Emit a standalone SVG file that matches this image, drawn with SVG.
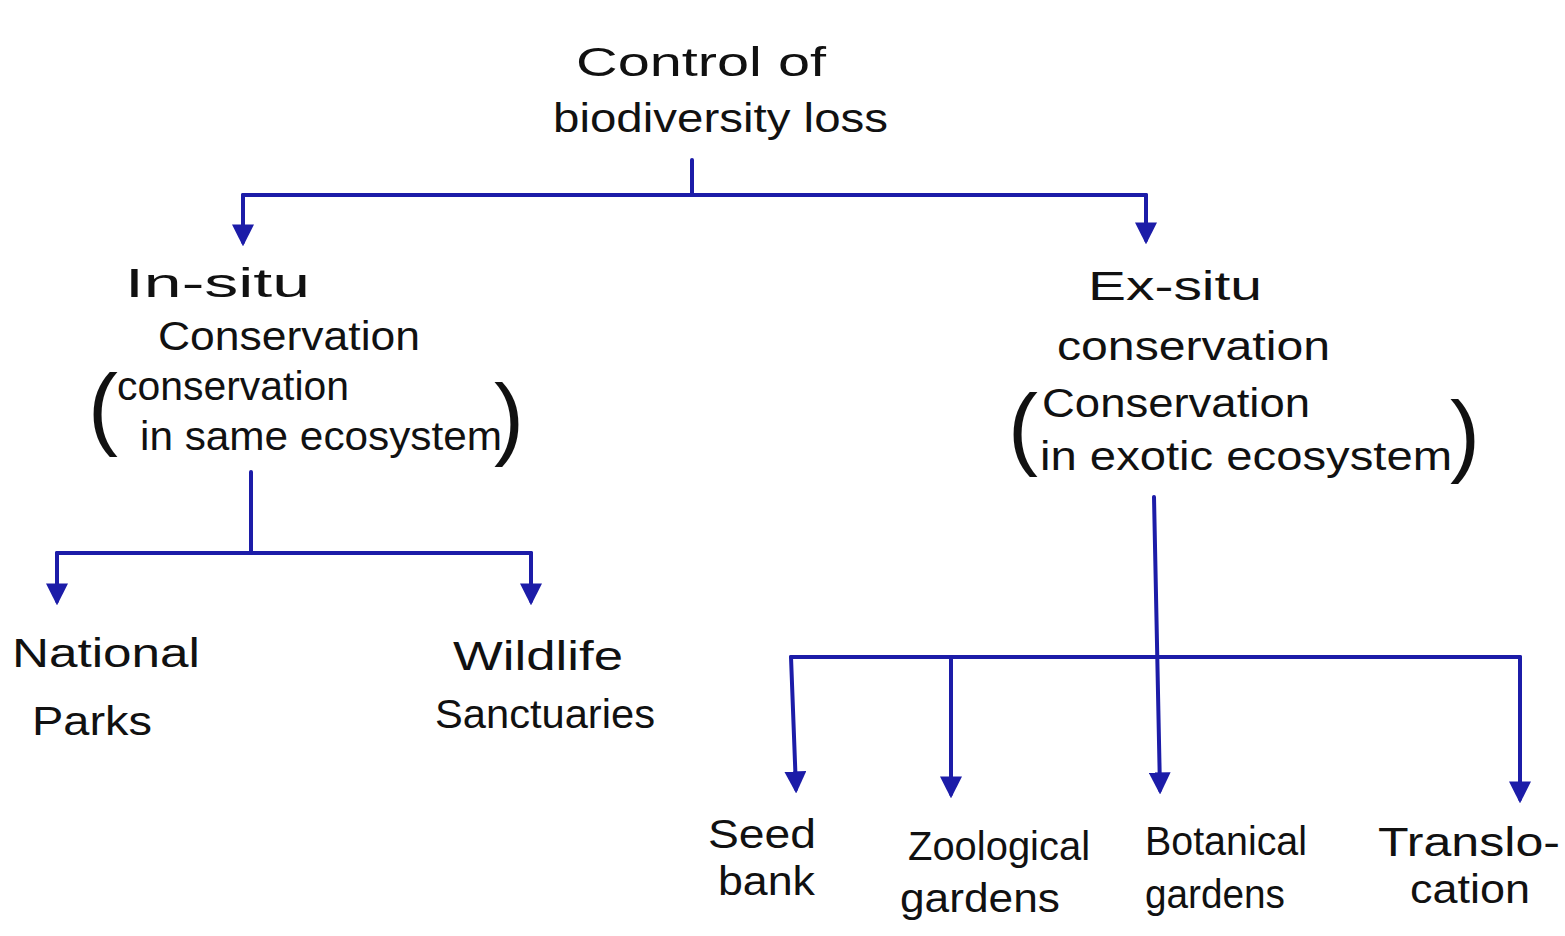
<svg xmlns="http://www.w3.org/2000/svg" width="1565" height="936" viewBox="0 0 1565 936">
<defs>
<style>
.t{font-family:"Liberation Sans","DejaVu Sans",sans-serif;font-size:40px;fill:#111;}
.p{font-family:"Liberation Sans","DejaVu Sans",sans-serif;font-size:90px;fill:#111;}
.c{stroke:#1c1ca8;stroke-width:4;fill:none;stroke-linecap:round;stroke-linejoin:round;}
</style>
<marker id="ah" viewBox="0 0 10 10" refX="8" refY="5" markerWidth="5.5" markerHeight="5.5" orient="auto" markerUnits="strokeWidth">
<path d="M0,0 L10,5 L0,10 Z" fill="#1c1ca8"/>
</marker>
</defs>
<rect width="1565" height="936" fill="#ffffff"/>
<g id="connectors">
<path class="c" d="M692,160 L692,195"/>
<path class="c" d="M243,195 L1146,195"/>
<path class="c" d="M243,195 L243,242" marker-end="url(#ah)"/>
<path class="c" d="M1146,195 L1146,240" marker-end="url(#ah)"/>
<path class="c" d="M251,472 L251,553"/>
<path class="c" d="M57,553 L531,553"/>
<path class="c" d="M57,553 L57,601" marker-end="url(#ah)"/>
<path class="c" d="M531,553 L531,601" marker-end="url(#ah)"/>
<path class="c" d="M1154,497 L1160,790" marker-end="url(#ah)"/>
<path class="c" d="M791,657 L1520,657"/>
<path class="c" d="M791,657 L796,789" marker-end="url(#ah)"/>
<path class="c" d="M951,657 L951,794" marker-end="url(#ah)"/>
<path class="c" d="M1520,657 L1520,799" marker-end="url(#ah)"/>
</g>
<g id="root">
<text class="t" x="576" y="76" textLength="250" lengthAdjust="spacingAndGlyphs">Control of</text>
<text class="t" x="553" y="132" textLength="335" lengthAdjust="spacingAndGlyphs">biodiversity loss</text>
</g>
<g id="insitu">
<text class="t" x="125" y="297" textLength="185" lengthAdjust="spacingAndGlyphs">In-situ</text>
<text class="t" x="158" y="350" textLength="262" lengthAdjust="spacingAndGlyphs">Conservation</text>
<text class="p" x="88" y="438">(</text>
<text class="t" x="117" y="400" textLength="232" lengthAdjust="spacingAndGlyphs">conservation</text>
<text class="t" x="140" y="450" textLength="362" lengthAdjust="spacingAndGlyphs">in same ecosystem</text>
<text class="p" x="494" y="448">)</text>
</g>
<g id="exsitu">
<text class="t" x="1088" y="300" textLength="174" lengthAdjust="spacingAndGlyphs">Ex-situ</text>
<text class="t" x="1057" y="360" textLength="273" lengthAdjust="spacingAndGlyphs">conservation</text>
<text class="p" x="1008" y="458">(</text>
<text class="t" x="1042" y="417" textLength="268" lengthAdjust="spacingAndGlyphs">Conservation</text>
<text class="t" x="1040" y="470" textLength="412" lengthAdjust="spacingAndGlyphs">in exotic ecosystem</text>
<text class="p" x="1450" y="465">)</text>
</g>
<g id="national-parks">
<text class="t" x="12" y="667" textLength="188" lengthAdjust="spacingAndGlyphs">National</text>
<text class="t" x="32" y="735" textLength="120" lengthAdjust="spacingAndGlyphs">Parks</text>
</g>
<g id="wildlife-sanctuaries">
<text class="t" x="453" y="670" textLength="170" lengthAdjust="spacingAndGlyphs">Wildlife</text>
<text class="t" x="435" y="728" textLength="220" lengthAdjust="spacingAndGlyphs">Sanctuaries</text>
</g>
<g id="seed-bank">
<text class="t" x="708" y="848" textLength="108" lengthAdjust="spacingAndGlyphs">Seed</text>
<text class="t" x="718" y="895" textLength="97" lengthAdjust="spacingAndGlyphs">bank</text>
</g>
<g id="zoological-gardens">
<text class="t" x="908" y="860" textLength="182" lengthAdjust="spacingAndGlyphs">Zoological</text>
<text class="t" x="900" y="912" textLength="160" lengthAdjust="spacingAndGlyphs">gardens</text>
</g>
<g id="botanical-gardens">
<text class="t" x="1145" y="855" textLength="162" lengthAdjust="spacingAndGlyphs">Botanical</text>
<text class="t" x="1145" y="908" textLength="140" lengthAdjust="spacingAndGlyphs">gardens</text>
</g>
<g id="translocation">
<text class="t" x="1378" y="856" textLength="182" lengthAdjust="spacingAndGlyphs">Translo-</text>
<text class="t" x="1410" y="903" textLength="120" lengthAdjust="spacingAndGlyphs">cation</text>
</g>
</svg>
